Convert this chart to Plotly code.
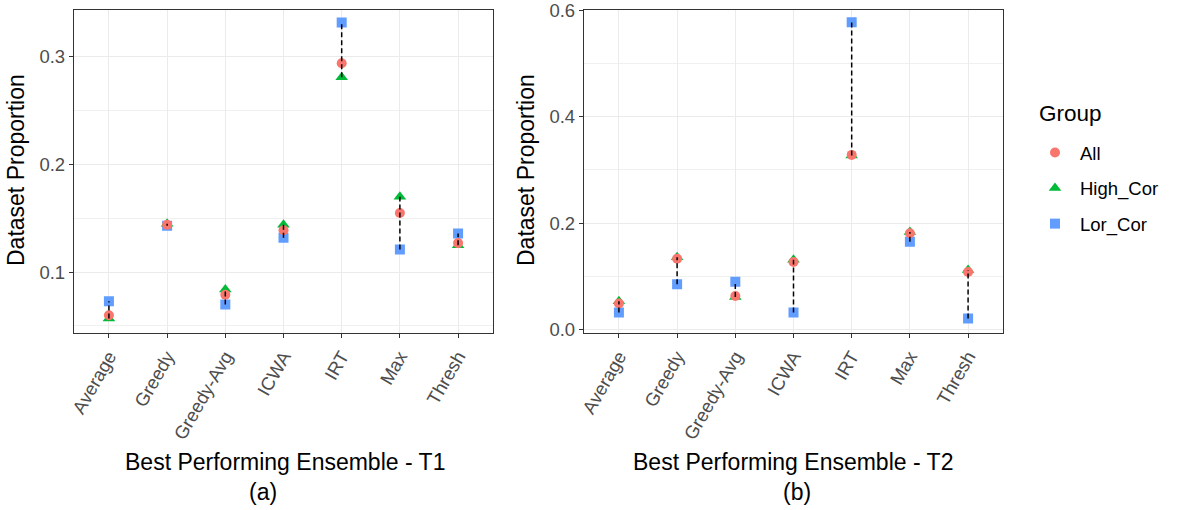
import plotly.graph_objects as go
import numpy as np

categories = ["Average", "Greedy", "Greedy-Avg", "ICWA", "IRT", "Max", "Thresh"]

# Panel (a) - T1
t1_all = [0.060, 0.144, 0.079, 0.139, 0.294, 0.155, 0.127]
t1_high = [0.057, 0.145, 0.084, 0.144, 0.281, 0.170, 0.125]
t1_low = [0.073, 0.143, 0.070, 0.132, 0.332, 0.121, 0.136]

# Panel (b) - T2
t2_all = [0.049, 0.133, 0.063, 0.127, 0.328, 0.181, 0.108]
t2_high = [0.053, 0.136, 0.061, 0.131, 0.327, 0.183, 0.112]
t2_low = [0.032, 0.085, 0.090, 0.032, 0.577, 0.165, 0.021]

groups = ["All", "High_Cor", "Lor_Cor"]
colors = {"All": "#F8766D", "High_Cor": "#00BA38", "Lor_Cor": "#619CFF"}
symbols = {"All": "circle", "High_Cor": "triangle-up", "Lor_Cor": "square"}
sizes = {"All": 10, "High_Cor": 11, "Lor_Cor": 10}
ranks = {"All": 1, "High_Cor": 2, "Lor_Cor": 3}

FONT = "Liberation Sans, Arial, sans-serif"
fig = go.Figure()

panels = [
    ("x", "y", {"All": t1_all, "High_Cor": t1_high, "Lor_Cor": t1_low}, True),
    ("x2", "y2", {"All": t2_all, "High_Cor": t2_high, "Lor_Cor": t2_low}, False),
]

for xa, ya, data, show in panels:
    for g in ["Lor_Cor", "High_Cor", "All"]:
        fig.add_trace(go.Scatter(
            x=categories, y=data[g], mode="markers", name=g,
            xaxis=xa, yaxis=ya, legendgroup=g, legendrank=ranks[g],
            showlegend=show,
            marker=dict(color=colors[g], symbol=symbols[g], size=sizes[g],
                        line=dict(width=0)),
        ))
    arr = np.array([data[g] for g in groups])
    lo = arr.min(axis=0)
    hi = arr.max(axis=0)
    lx, ly = [], []
    for c, a, b in zip(categories, lo, hi):
        lx += [c, c, None]
        ly += [a, b, None]
    fig.add_trace(go.Scatter(
        x=lx, y=ly, mode="lines", xaxis=xa, yaxis=ya, showlegend=False,
        line=dict(color="black", width=1.5, dash="5px,3px"), hoverinfo="skip",
    ))

ydom = [1 - 333.3 / 510, 1 - 9.5 / 510]
axis_common = dict(
    showline=True, mirror=True, linecolor="#333333", linewidth=1.3,
    ticks="outside", ticklen=4, tickcolor="#333333", tickwidth=1.1,
    gridcolor="#EBEBEB", gridwidth=1.2, zeroline=False, automargin=False,
    ticklabeloverflow="allow",
    tickfont=dict(family=FONT, size=18.5, color="#4D4D4D"),
)
xcommon = dict(axis_common, type="category", range=[-0.6, 6.6], tickangle=-60,
               categoryorder="array", categoryarray=categories)

fig.update_layout(
    width=1177, height=510,
    margin=dict(l=0, r=0, t=0, b=0, autoexpand=False),
    paper_bgcolor="white", plot_bgcolor="white",
    xaxis=dict(xcommon, domain=[74 / 1177, 493 / 1177], anchor="y"),
    yaxis=dict(axis_common, domain=ydom, range=[0.0432, 0.344], anchor="x",
               tickvals=[0.1, 0.2, 0.3], ticktext=["0.1", "0.2", "0.3"],
               minor=dict(dtick=0.05, tick0=0, showgrid=True, gridcolor="#F0F0F0",
                          gridwidth=1, ticks="")),
    xaxis2=dict(xcommon, domain=[584 / 1177, 1003 / 1177], anchor="y2"),
    yaxis2=dict(axis_common, domain=ydom, range=[-0.007, 0.601], anchor="x2",
                tickvals=[0.0, 0.2, 0.4, 0.6], ticktext=["0.0", "0.2", "0.4", "0.6"],
                minor=dict(dtick=0.1, tick0=0, showgrid=True, gridcolor="#F0F0F0",
                           gridwidth=1, ticks="")),
    legend=dict(
        x=1030 / 1177, y=1 - 134 / 510, xanchor="left", yanchor="top",
        font=dict(family=FONT, size=18.5, color="black"),
        traceorder="grouped", tracegroupgap=8.5, itemwidth=40,
        bgcolor="rgba(0,0,0,0)",
    ),
    showlegend=True,
)

annots = [
    dict(text="Best Performing Ensemble - T1", x=285, y=462, size=23),
    dict(text="(a)", x=263, y=492, size=23),
    dict(text="Best Performing Ensemble - T2", x=793, y=462, size=23),
    dict(text="(b)", x=797, y=492, size=23),
]
for a in annots:
    fig.add_annotation(text=a["text"], x=a["x"] / 1177, y=1 - a["y"] / 510,
                       xref="paper", yref="paper", showarrow=False,
                       xanchor="center", yanchor="middle",
                       font=dict(family=FONT, size=a["size"], color="black"))
fig.add_annotation(text="Group", x=1037 / 1177, y=1 - 113 / 510,
                   xref="paper", yref="paper", showarrow=False,
                   xanchor="left", yanchor="middle",
                   font=dict(family=FONT, size=22.5, color="black"))
for xpos in [16, 526]:
    fig.add_annotation(text="Dataset Proportion", x=xpos / 1177, y=1 - 170 / 510,
                       xref="paper", yref="paper", showarrow=False, textangle=-90,
                       xanchor="center", yanchor="middle",
                       font=dict(family=FONT, size=23, color="black"))

fig.write_html("out.html")
